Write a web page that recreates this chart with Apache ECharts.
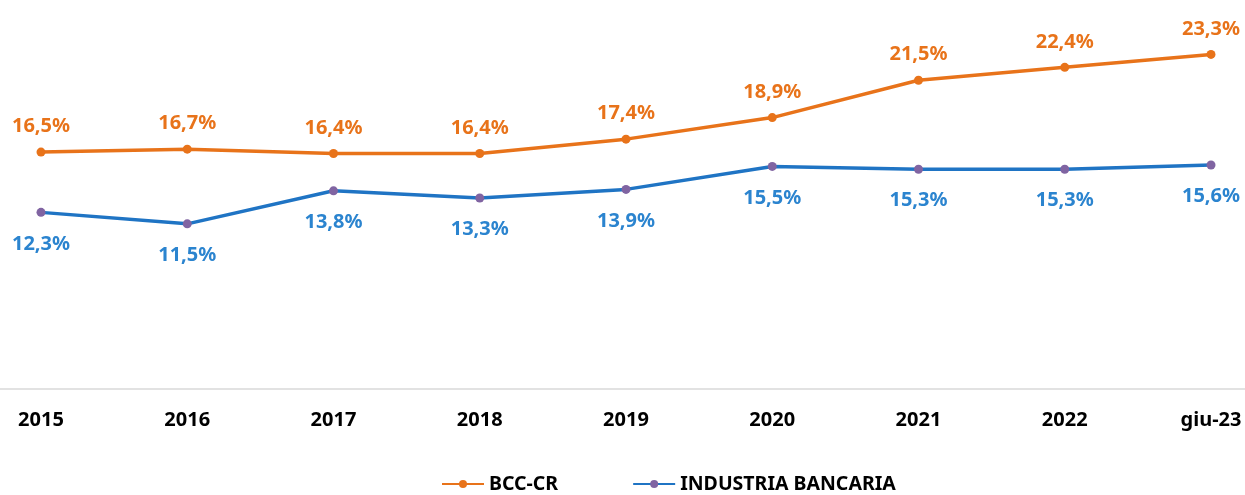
<!DOCTYPE html>
<html>
<head>
<meta charset="utf-8">
<script src="https://cdn.jsdelivr.net/npm/echarts@6/dist/echarts.min.js"></script>
<style>
  html, body { margin: 0; padding: 0; background: #fff; }
  #chart { width: 1245px; height: 495px; }
</style>
</head>
<body>
<div id="chart"></div>
<script>
var categories = ['2015', '2016', '2017', '2018', '2019', '2020', '2021', '2022', 'giu-23'];
var bccValues = [16.5, 16.7, 16.4, 16.4, 17.4, 18.9, 21.5, 22.4, 23.3];
var industriaValues = [12.3, 11.5, 13.8, 13.3, 13.9, 15.5, 15.3, 15.3, 15.6];

var orange = '#E8731A';
var blue = '#1F74C4';
var labelBlue = '#2B84CF';
var purple = '#8064A2';
var font = 'Noto Sans';

// formatta 16.5 -> "16,5%"
function pct(p) {
    return p.value.toFixed(1).replace('.', ',') + '%';
}

var myChart = echarts.init(document.getElementById('chart'));
var option = {
    animation: false,
    backgroundColor: '#fff',
    grid: [
        { left: 41, right: 34, top: 30, bottom: 106 },
        //griglia a tutta larghezza solo per la linea dell'asse
        { left: 0, right: 0, top: 30, bottom: 106 }
    ],
    legend: {
        top: 469,
        left: 436,
        itemWidth: 42,
        itemHeight: 10,
        itemGap: 74,
        textStyle: { fontFamily: font, fontWeight: 'bold', fontSize: 19.5, color: '#000' },
        data: ['BCC-CR', 'INDUSTRIA BANCARIA']
    },
    xAxis: [
        {
            type: 'category',
            gridIndex: 0,
            data: categories,
            boundaryGap: false,
            axisLine: { show: false },
            axisTick: { show: false },
            axisLabel: { margin: 21, fontFamily: font, fontWeight: 'bold', fontSize: 20, color: '#000' }
        },
        {
            type: 'category',
            gridIndex: 1,
            data: categories,
            axisLine: { lineStyle: { color: '#d9d9d9', width: 1.5 } },
            axisTick: { show: false },
            axisLabel: { show: false }
        }
    ],
    yAxis: [
        { type: 'value', gridIndex: 0, min: 0, max: 25, show: false, splitLine: { show: false } },
        { type: 'value', gridIndex: 1, min: 0, max: 25, show: false, splitLine: { show: false } }
    ],
    series: [
        {
            name: 'BCC-CR',
            type: 'line',
            data: bccValues,
            symbol: 'circle',
            symbolSize: 9,
            lineStyle: { color: orange, width: 3.5 },
            itemStyle: { color: orange },
            label: {
                show: true, position: 'top', distance: 11, formatter: pct,
                color: orange, fontFamily: font, fontWeight: 'bold', fontSize: 20
            }
        },
        {
            name: 'INDUSTRIA BANCARIA',
            type: 'line',
            data: industriaValues,
            symbol: 'circle',
            symbolSize: 9,
            lineStyle: { color: blue, width: 3.5 },
            itemStyle: { color: purple },
            label: {
                show: true, position: 'bottom', distance: 17, formatter: pct,
                color: labelBlue, fontFamily: font, fontWeight: 'bold', fontSize: 20
            }
        }
    ]
};
myChart.setOption(option);
</script>
</body>
</html>
